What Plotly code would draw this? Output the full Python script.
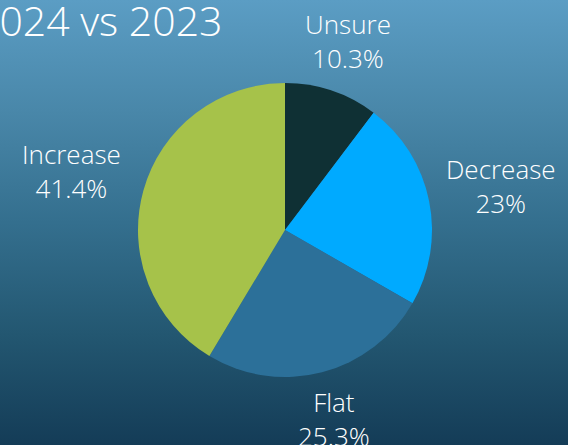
import base64
import math
import plotly.graph_objects as go

# Survey answers, 2024 vs 2023
categories = ["Unsure", "Decrease", "Flat", "Increase"]
shares = [10.3, 23, 25.3, 41.4]
slice_colors = ["#0f3034", "#00aaff", "#2c7099", "#a6c24a"]
title_text = "2024 vs 2023"

W, H = 568, 445
CX, CY, R = 285, 230, 147          # pie centre and radius in pixels
FONT = "Open Sans"
WEIGHT = 300
LABEL_SIZE = 26

# vertical gradient for the page background
svg = f"""<svg xmlns='http://www.w3.org/2000/svg' width='{W}' height='{H}' preserveAspectRatio='none'>
<defs><linearGradient id='g' x1='0' y1='0' x2='0' y2='1'>
<stop offset='0' stop-color='#5b9dc4'/>
<stop offset='0.25' stop-color='#4987a9'/>
<stop offset='0.5' stop-color='#346f8e'/>
<stop offset='0.75' stop-color='#235771'/>
<stop offset='1' stop-color='#143c57'/>
</linearGradient></defs>
<rect width='{W}' height='{H}' fill='url(#g)'/></svg>"""
bg_uri = "data:image/svg+xml;base64," + base64.b64encode(svg.encode()).decode()

fig = go.Figure(
    go.Pie(
        labels=categories,
        values=shares,
        marker=dict(colors=slice_colors, line=dict(width=0)),
        sort=False,
        direction="clockwise",
        rotation=0,
        textinfo="none",
        hoverinfo="label+percent",
        showlegend=False,
        domain=dict(
            x=[(CX - R) / W, (CX + R) / W],
            y=[1 - (CY + R) / H, 1 - (CY - R) / H],
        ),
    )
)

# outside labels placed along each slice's mid-angle
total = sum(shares)
cum = 0.0
annotations = []
for name, val in zip(categories, shares):
    mid = (cum + val / 2) / total * 2 * math.pi
    cum += val
    ux, uy = math.sin(mid), -math.cos(mid)
    text = f"{name}<br>{val:g}%"
    w = 14.8 * max(len(name), len(f"{val:g}%"))
    h = 61
    dist = R + 9 + abs(ux) * w / 2 + abs(uy) * h / 2
    px, py = CX + ux * dist, CY + uy * dist
    annotations.append(dict(
        x=px / W, y=1 - py / H, xref="paper", yref="paper",
        text=text, showarrow=False, xanchor="center", yanchor="middle",
        font=dict(family=FONT, size=LABEL_SIZE, color="white", weight=WEIGHT),
    ))

annotations.append(dict(
    x=224 / W, y=1 - 20 / H, xref="paper", yref="paper",
    text=title_text, showarrow=False, xanchor="right", yanchor="middle",
    font=dict(family=FONT, size=41, color="white", weight=WEIGHT),
))

fig.update_layout(
    width=W, height=H,
    margin=dict(l=0, r=0, t=0, b=0),
    paper_bgcolor="#143c57",
    plot_bgcolor="rgba(0,0,0,0)",
    annotations=annotations,
    images=[dict(
        source=bg_uri, xref="paper", yref="paper", x=0, y=1,
        sizex=1, sizey=1, xanchor="left", yanchor="top",
        sizing="stretch", layer="below",
    )],
)

fig.write_html("out.html")
